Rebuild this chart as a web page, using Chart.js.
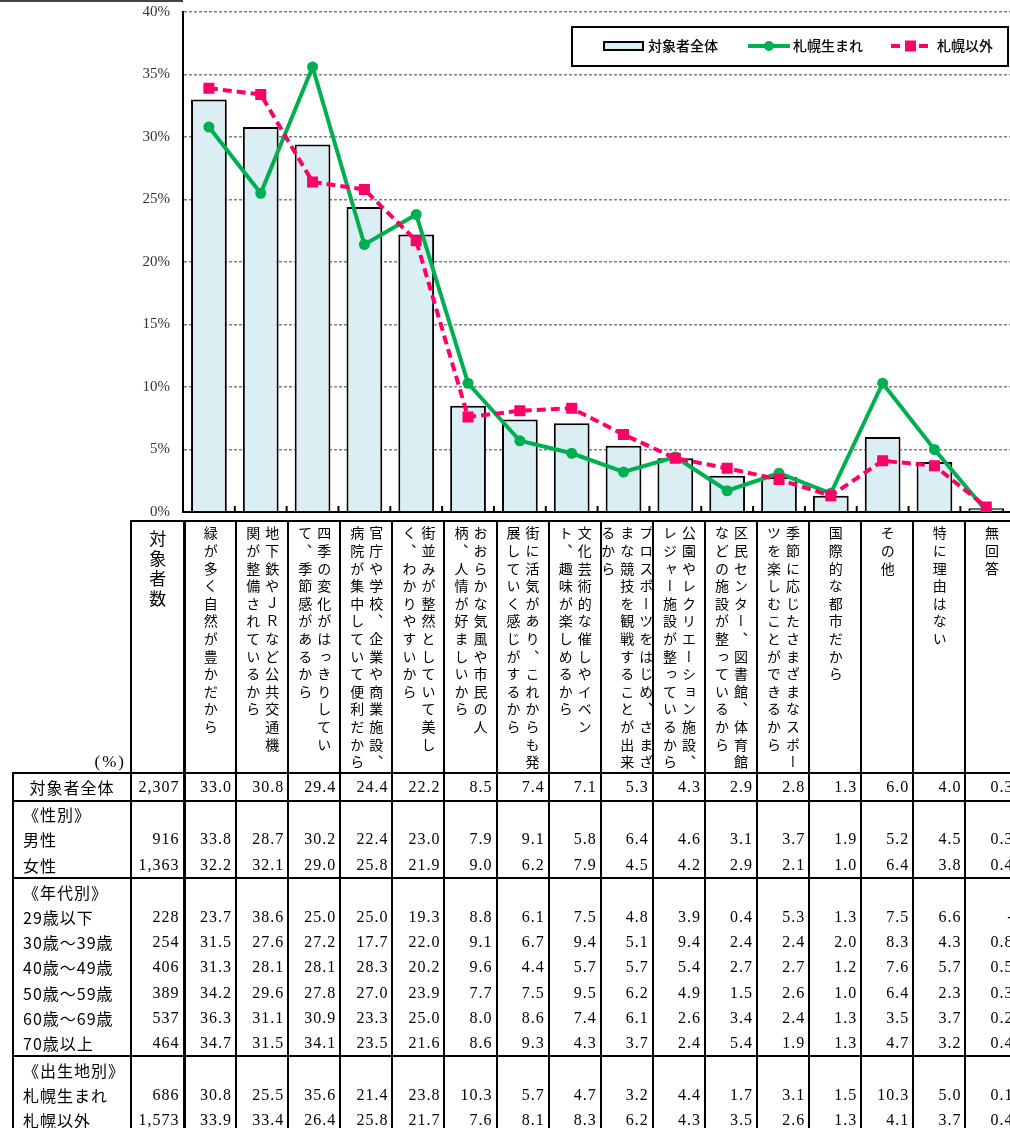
<!DOCTYPE html>
<html lang="ja">
<head>
<meta charset="utf-8">
<script src="https://cdn.jsdelivr.net/npm/chart.js@4.4.0/dist/chart.umd.min.js"></script>
<style>
  html, body { margin: 0; padding: 0; width: 1010px; height: 1128px; overflow: hidden; background: #fff; }
  #chartBox { position: absolute; left: 0; top: 0; width: 1020px; height: 521px; }
  #topRule { position: absolute; left: 0; top: 0; width: 183px; border-top: 2px solid #444; }
  table {
    position: absolute; left: 12px; top: 520px; width: 1005px;
    border-collapse: collapse; table-layout: fixed;
    font-family: "Liberation Serif", "Noto Sans CJK JP", serif; font-size: 16px; color: #000;
  }
  td { padding: 0; border-left: 2px solid #000; border-right: 2px solid #000; white-space: nowrap; overflow: hidden; }
  td.num { text-align: right; padding-right: 3px; letter-spacing: 1px; }
  td.cnt { border-right-width: 3px; }
  td.lab { text-align: left; padding-left: 9px; font-family: "Noto Sans CJK JP", sans-serif; font-size: 16px; letter-spacing: 1px; }
  tr.head td { height: 248px; vertical-align: top; border-top: 2px solid #000; }
  tr.head td.corner { border-top: none; border-left: none; vertical-align: bottom; text-align: right; padding-right: 4px; letter-spacing: 2px; font-size: 17px; }
  tr.body td { height: 25.2px; line-height: 20px; }
  tr.all td { border-top: 2px solid #000; border-bottom: 2px solid #000; }
  tr.all td.lab { text-align: center; padding-left: 0; }
  tr.groupEnd td { border-bottom: 2px solid #000; }
  .vwrap { display: flex; justify-content: center; padding-top: 4px; }
  .vtext { writing-mode: vertical-rl; font-family: "Noto Sans CJK JP", sans-serif; font-size: 14px; line-height: 19px; letter-spacing: 3.6px; white-space: nowrap; }
  .vcount { font-size: 17px; line-height: 20px; letter-spacing: 3px; padding-top: 4px; }
</style>
</head>
<body>
<div id="topRule"></div>
<div id="chartBox"><canvas id="chart"></canvas></div>
<table id="table"></table>
<script>
// categories ('|' marks the line break used in the table header)
const categories = [
  '緑が多く自然が豊かだから',
  '地下鉄やＪＲなど公共交通機|関が整備されているから',
  '四季の変化がはっきりしてい|て、季節感があるから',
  '官庁や学校、企業や商業施設、|病院が集中していて便利だから',
  '街並みが整然としていて美し|く、わかりやすいから',
  'おおらかな気風や市民の人|柄、人情が好ましいから',
  '街に活気があり、これからも発|展していく感じがするから',
  '文化芸術的な催しやイベン|ト、趣味が楽しめるから',
  'プロスポーツをはじめ、さまざ|まな競技を観戦することが出来|るから',
  '公園やレクリエーション施設、|レジャー施設が整っているから',
  '区民センター、図書館、体育館|などの施設が整っているから',
  '季節に応じたさまざまなスポー|ツを楽しむことができるから',
  '国際的な都市だから',
  'その他',
  '特に理由はない',
  '無回答'
];

const seriesNames = ['対象者全体', '札幌生まれ', '札幌以外'];
const totalValues = [33.0, 30.8, 29.4, 24.4, 22.2, 8.5, 7.4, 7.1, 5.3, 4.3, 2.9, 2.8, 1.3, 6.0, 4.0, 0.3];
const bornValues  = [30.8, 25.5, 35.6, 21.4, 23.8, 10.3, 5.7, 4.7, 3.2, 4.4, 1.7, 3.1, 1.5, 10.3, 5.0, 0.1];
const otherValues = [33.9, 33.4, 26.4, 25.8, 21.7, 7.6, 8.1, 8.3, 6.2, 4.3, 3.5, 2.6, 1.3, 4.1, 3.7, 0.4];

// table rows
const maleValues   = [33.8, 28.7, 30.2, 22.4, 23.0, 7.9, 9.1, 5.8, 6.4, 4.6, 3.1, 3.7, 1.9, 5.2, 4.5, 0.3];
const femaleValues = [32.2, 32.1, 29.0, 25.8, 21.9, 9.0, 6.2, 7.9, 4.5, 4.2, 2.9, 2.1, 1.0, 6.4, 3.8, 0.4];
const age20Values  = [23.7, 38.6, 25.0, 25.0, 19.3, 8.8, 6.1, 7.5, 4.8, 3.9, 0.4, 5.3, 1.3, 7.5, 6.6, null];
const age30Values  = [31.5, 27.6, 27.2, 17.7, 22.0, 9.1, 6.7, 9.4, 5.1, 9.4, 2.4, 2.4, 2.0, 8.3, 4.3, 0.8];
const age40Values  = [31.3, 28.1, 28.1, 28.3, 20.2, 9.6, 4.4, 5.7, 5.7, 5.4, 2.7, 2.7, 1.2, 7.6, 5.7, 0.5];
const age50Values  = [34.2, 29.6, 27.8, 27.0, 23.9, 7.7, 7.5, 9.5, 6.2, 4.9, 1.5, 2.6, 1.0, 6.4, 2.3, 0.3];
const age60Values  = [36.3, 31.1, 30.9, 23.3, 25.0, 8.0, 8.6, 7.4, 6.1, 2.6, 3.4, 2.4, 1.3, 3.5, 3.7, 0.2];
const age70Values  = [34.7, 31.5, 34.1, 23.5, 21.6, 8.6, 9.3, 4.3, 3.7, 2.4, 5.4, 1.9, 1.3, 4.7, 3.2, 0.4];

const groups = [
  { title: '《性別》', rows: [['男性', '916', maleValues], ['女性', '1,363', femaleValues]] },
  { title: '《年代別》', rows: [
    ['29歳以下', '228', age20Values], ['30歳～39歳', '254', age30Values],
    ['40歳～49歳', '406', age40Values], ['50歳～59歳', '389', age50Values],
    ['60歳～69歳', '537', age60Values], ['70歳以上', '464', age70Values]] },
  { title: '《出生地別》', rows: [['札幌生まれ', '686', bornValues], ['札幌以外', '1,573', otherValues]] }
];

const yMax = 40;
const yStep = 5;

const colors = { bar: '#DAEEF3', born: '#00B050', other: '#FF0066' };

// build table
function fmt(v) { return v === null ? '-' : v.toFixed(1); }

function buildTable() {
  const t = document.getElementById('table');
  let html = '<colgroup><col style="width:118px"><col style="width:53px">';
  categories.forEach(() => { html += '<col style="width:52.1px">'; });
  html += '</colgroup>';

  html += '<tr class="head"><td class="corner">(%)</td>';
  html += '<td class="cnt"><div class="vwrap"><div class="vtext vcount">対象者数</div></div></td>';
  categories.forEach((c) => {
    html += '<td><div class="vwrap"><div class="vtext">' + c.split('|').join('<br>') + '</div></div></td>';
  });
  html += '</tr>';

  const row = (label, n, values, cls) => {
    let r = '<tr class="body ' + cls + '"><td class="lab">' + label + '</td><td class="num cnt">' + n + '</td>';
    categories.forEach((c, i) => { r += '<td class="num">' + (values ? fmt(values[i]) : '') + '</td>'; });
    return r + '</tr>';
  };

  html += row('対象者全体', '2,307', totalValues, 'all');
  groups.forEach((g) => {
    html += row(g.title, '', null, '');
    g.rows.forEach((r, i) => {
      html += row(r[0], r[1], r[2], i === g.rows.length - 1 ? 'groupEnd' : '');
    });
  });
  t.innerHTML = html;
}
buildTable();

// small tick marks between categories, inside the plot
const insideTicks = {
  id: 'insideTicks',
  afterDraw(chart) {
    const { ctx, scales } = chart;
    const x = scales.x;
    const bottom = chart.chartArea.bottom;
    const half = (x.getPixelForValue(1) - x.getPixelForValue(0)) / 2;
    ctx.save();
    ctx.strokeStyle = '#000';
    ctx.lineWidth = 2;
    categories.forEach((c, i) => {
      const px = x.getPixelForValue(i) + half;
      ctx.beginPath();
      ctx.moveTo(px, bottom);
      ctx.lineTo(px, bottom - 6);
      ctx.stroke();
    });
    ctx.restore();
  }
};

// boxed legend in the upper right
const boxLegend = {
  id: 'boxLegend',
  afterDraw(chart) {
    const { ctx } = chart;
    const y = 46;
    ctx.save();
    ctx.fillStyle = '#fff';
    ctx.fillRect(572, 27, 436, 39);
    ctx.strokeStyle = '#000';
    ctx.lineWidth = 2;
    ctx.strokeRect(572, 27, 436, 39);

    ctx.fillStyle = colors.bar;
    ctx.fillRect(604, 42, 39, 8);
    ctx.strokeRect(604, 42, 39, 8);

    ctx.strokeStyle = colors.born;
    ctx.lineWidth = 4;
    ctx.beginPath(); ctx.moveTo(748, y); ctx.lineTo(790, y); ctx.stroke();
    ctx.fillStyle = colors.born;
    ctx.beginPath(); ctx.arc(769, y, 5, 0, Math.PI * 2); ctx.fill();

    ctx.strokeStyle = colors.other;
    ctx.setLineDash([9, 5]);
    ctx.beginPath(); ctx.moveTo(891, y); ctx.lineTo(930, y); ctx.stroke();
    ctx.setLineDash([]);
    ctx.fillStyle = colors.other;
    ctx.fillRect(905, y - 5.5, 11, 11);

    ctx.fillStyle = '#000';
    ctx.font = '500 14px "Noto Sans CJK JP", sans-serif';
    ctx.textBaseline = 'middle';
    ctx.fillText(seriesNames[0], 648, y);
    ctx.fillText(seriesNames[1], 793, y);
    ctx.fillText(seriesNames[2], 937, y);
    ctx.restore();
  }
};

new Chart(document.getElementById('chart'), {
  data: {
    labels: categories,
    datasets: [
      {
        type: 'line',
        label: seriesNames[2],
        data: otherValues,
        borderColor: colors.other,
        borderWidth: 4,
        borderDash: [9, 5],
        pointStyle: 'rect',
        pointRadius: 7.8,
        pointBackgroundColor: colors.other,
        pointBorderWidth: 0,
        tension: 0,
        order: 0
      },
      {
        type: 'line',
        label: seriesNames[1],
        data: bornValues,
        borderColor: colors.born,
        borderWidth: 4,
        pointStyle: 'circle',
        pointRadius: 5.5,
        pointBackgroundColor: colors.born,
        pointBorderWidth: 0,
        tension: 0,
        order: 1
      },
      {
        type: 'bar',
        label: seriesNames[0],
        data: totalValues,
        backgroundColor: colors.bar,
        borderColor: '#000',
        borderWidth: 2,
        categoryPercentage: 1,
        barPercentage: 0.69,
        order: 2
      }
    ]
  },
  options: {
    responsive: true,
    maintainAspectRatio: false,
    animation: false,
    layout: { padding: { top: 12, right: 2, bottom: 9, left: 0 } },
    plugins: { legend: { display: false }, tooltip: { enabled: false } },
    scales: {
      x: {
        type: 'category',
        offset: true,
        afterFit(scale) { scale.height = 0; },
        ticks: { display: false },
        grid: { display: false },
        border: { display: true, color: '#000', width: 2 }
      },
      y: {
        min: 0,
        max: yMax,
        afterFit(scale) { scale.width = 183; },
        ticks: {
          stepSize: yStep,
          padding: 0,
          color: '#333',
          font: { family: '"Liberation Serif", serif', size: 15 },
          callback: (v) => v + '%'
        },
        grid: { color: '#808080', lineWidth: 1.5, drawTicks: true, tickLength: 13, tickColor: 'rgba(0,0,0,0)' },
        border: { color: '#000', width: 2, dash: [3, 2] }
      }
    }
  },
  plugins: [insideTicks, boxLegend]
});
</script>
</body>
</html>
